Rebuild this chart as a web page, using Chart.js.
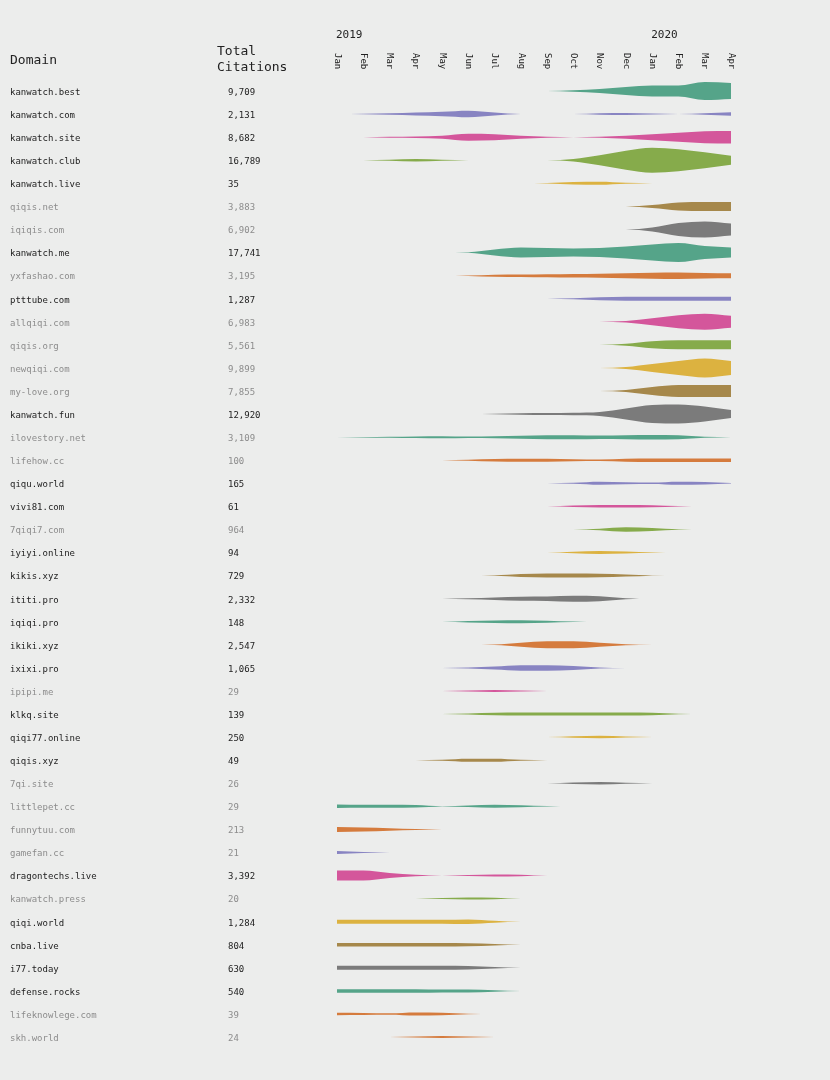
<!DOCTYPE html>
<html>
<head>
<meta charset="utf-8">
<script src="https://cdn.jsdelivr.net/npm/chart.js@4.4.1/dist/chart.umd.min.js"></script>
<style>
  html, body { margin: 0; padding: 0; background: #ecedec; }
  canvas { display: block; }
</style>
</head>
<body>
<canvas id="chart" width="830" height="1080"></canvas>
<script>
// month axis: Jan 2019 .. Apr 2020
const months = ['Jan','Feb','Mar','Apr','May','Jun','Jul','Aug','Sep','Oct','Nov','Dec','Jan','Feb','Mar','Apr'];
const years = [{ label: '2019', index: 0 }, { label: '2020', index: 12 }];

const domains = [
    'kanwatch.best','kanwatch.com','kanwatch.site','kanwatch.club','kanwatch.live',
    'qiqis.net','iqiqis.com','kanwatch.me','yxfashao.com','ptttube.com',
    'allqiqi.com','qiqis.org','newqiqi.com','my-love.org','kanwatch.fun',
    'ilovestory.net','lifehow.cc','qiqu.world','vivi81.com','7qiqi7.com',
    'iyiyi.online','kikis.xyz','ititi.pro','iqiqi.pro','ikiki.xyz',
    'ixixi.pro','ipipi.me','klkq.site','qiqi77.online','qiqis.xyz',
    '7qi.site','littlepet.cc','funnytuu.com','gamefan.cc','dragontechs.live',
    'kanwatch.press','qiqi.world','cnba.live','i77.today','defense.rocks',
    'lifeknowlege.com','skh.world'
];

const citations = [
    '9,709','2,131','8,682','16,789','35',
    '3,883','6,902','17,741','3,195','1,287',
    '6,983','5,561','9,899','7,855','12,920',
    '3,109','100','165','61','964',
    '94','729','2,332','148','2,547',
    '1,065','29','139','250','49',
    '26','29','213','21','3,392',
    '20','1,284','804','630','540',
    '39','24'
];

// rows printed in dark text (the rest are grey)
const highlighted = [0,1,2,3,4,7,9,14,17,18,20,21,22,23,24,25,27,28,29,34,36,37,38,39];

// monthly citation volume per domain (band thickness), Jan 2019 .. Apr 2020
const volume = [
    [0,0,0,0,0,0,0,0,0,1.5,4,8,11,11,18,16],          // kanwatch.best
    [0,0.5,1.5,3,4.5,6.5,3,0,0,0,1.5,2,1,0,1.5,3.5],  // kanwatch.com
    [0,0,1,1.5,3,7,6,3,1,0,1,3,6,9,12,12.5],          // kanwatch.site
    [0,0,1,2.5,1,0,0,0,0,2.5,10,19,25,22,16,9],       // kanwatch.club
    [0,0,0,0,0,0,0,0,0.5,2.5,3,1,0,0,0,0],            // kanwatch.live
    [0,0,0,0,0,0,0,0,0,0,0,0,3,8,9,9],                // qiqis.net
    [0,0,0,0,0,0,0,0,0,0,0,0,4,13,16,12],             // iqiqis.com
    [0,0,0,0,0,0.5,6,10,9,8,9,12,16,19,13,10],        // kanwatch.me
    [0,0,0,0,0,0.5,2,2.5,3,3.5,4,5,6,6.5,5.5,5],      // yxfashao.com
    [0,0,0,0,0,0,0,0,0,1,3,4,4,4,4,4],                // ptttube.com
    [0,0,0,0,0,0,0,0,0,0,0,1.5,7,13,16,12],           // allqiqi.com
    [0,0,0,0,0,0,0,0,0,0,0,2,7,9,9,9],                // qiqis.org
    [0,0,0,0,0,0,0,0,0,0,0,2,8,14,19,14],             // newqiqi.com
    [0,0,0,0,0,0,0,0,0,0,0,2,8,12,12,12],             // my-love.org
    [0,0,0,0,0,0,0.5,1.5,2,2.5,4,11,18,19,15,8],      // kanwatch.fun
    [0,0.5,1,1.5,2,1.5,2,3,4,4,3.5,4,4.5,4,1,0],      // ilovestory.net
    [0,0,0,0,0,1,2.5,3,3,2,1.5,3,3.5,3.5,3.5,3.5],    // lifehow.cc
    [0,0,0,0,0,0,0,0,0,1,3,2,1.5,3,2.5,0.5],          // qiqu.world
    [0,0,0,0,0,0,0,0,0,1.5,2.5,2.5,2,0.5,0,0],        // vivi81.com
    [0,0,0,0,0,0,0,0,0,0,1.5,4.5,3,0.5,0,0],          // 7qiqi7.com
    [0,0,0,0,0,0,0,0,0,1.5,3,2,0.5,0,0,0],            // iyiyi.online
    [0,0,0,0,0,0,0.5,3,4,4,3.5,2,0.3,0,0,0],          // kikis.xyz
    [0,0,0,0,0,1,2.5,4,4.5,6,5,1,0,0,0,0],            // ititi.pro
    [0,0,0,0,0,1.5,2.5,3,2,0.5,0,0,0,0,0,0],          // iqiqi.pro
    [0,0,0,0,0,0,0.5,4,7,7,4,1,0,0,0,0],              // ikiki.xyz
    [0,0,0,0,0,1,3,5.5,5.5,4,1,0,0,0,0,0],            // ixixi.pro
    [0,0,0,0,0,1,2,1,0,0,0,0,0,0,0,0],                // ipipi.me
    [0,0,0,0,0,1,2.5,3,3,3,3,3,2.5,0.5,0,0],          // klkq.site
    [0,0,0,0,0,0,0,0,0,1.5,2.5,1,0,0,0,0],            // qiqi77.online
    [0,0,0,0,1,3,3,1,0,0,0,0,0,0,0,0],                // qiqis.xyz
    [0,0,0,0,0,0,0,0,0,1.5,2.5,1,0,0,0,0],            // 7qi.site
    [3.5,3,3,2.5,0.3,1.5,3,2,0.5,0,0,0,0,0,0,0],      // littlepet.cc
    [5,4,2.5,1,0,0,0,0,0,0,0,0,0,0,0,0],              // funnytuu.com
    [3,1,0,0,0,0,0,0,0,0,0,0,0,0,0,0],                // gamefan.cc
    [10,10,5,1.5,0,1,2,1.5,0,0,0,0,0,0,0,0],          // dragontechs.live
    [0,0,0,0,1,2,1.5,0,0,0,0,0,0,0,0,0],              // kanwatch.press
    [4,4,4,4,4,4.5,2,0,0,0,0,0,0,0,0,0],              // qiqi.world
    [3.5,3.5,3.5,3.5,3.5,3,1.5,0,0,0,0,0,0,0,0,0],    // cnba.live
    [4,4,4,4,4,3.5,1.5,0,0,0,0,0,0,0,0,0],            // i77.today
    [3.5,3.5,3.5,3.5,3,3,1.5,0,0,0,0,0,0,0,0,0],      // defense.rocks
    [2.5,2,1.5,3,2.5,0.5,0,0,0,0,0,0,0,0,0,0],        // lifeknowlege.com
    [0,0,0,1,2,1,0,0,0,0,0,0,0,0,0,0]                 // skh.world
];

const palette = {
    teal: '#55a489', orange: '#d57b3d', purple: '#8884c2', pink: '#d4569b',
    green: '#86ab4b', yellow: '#dcb240', brown: '#a6884b', gray: '#7b7b7b'
};
const rowColors = [
    'teal','purple','pink','green','yellow','brown','gray',
    'teal','orange','purple','pink','green','yellow','brown','gray',
    'teal','orange','purple','pink','green','yellow','brown','gray',
    'teal','orange','purple','pink','green','yellow','brown','gray',
    'teal','orange','purple','pink','green','yellow','brown','gray',
    'teal','orange','orange'
];

const ROW_PX = 23.07;          // one row in pixels, volume is read in px
const MONO = '"DejaVu Sans Mono", "Liberation Mono", monospace';

function buildDatasets() {
    const sets = [];
    volume.forEach((row, i) => {
        const color = palette[rowColors[i]];
        const half = row.map(v => v / ROW_PX / 2);
        sets.push({
            data: half.map((h, j) => ({ x: j, y: i - h })),
            fill: false,
            borderWidth: 0,
            pointRadius: 0,
            cubicInterpolationMode: 'monotone',
            backgroundColor: color
        });
        sets.push({
            data: half.map((h, j) => ({ x: j, y: i + h })),
            fill: '-1',
            borderWidth: 0,
            pointRadius: 0,
            cubicInterpolationMode: 'monotone',
            backgroundColor: color
        });
    });
    return sets;
}

const textPlugin = {
    id: 'textLabels',
    afterDraw(chart) {
        const ctx = chart.ctx;
        const xs = chart.scales.x;
        const ys = chart.scales.y;
        ctx.save();

        // headers
        ctx.fillStyle = '#222';
        ctx.textBaseline = 'middle';
        ctx.textAlign = 'left';
        ctx.font = '13px ' + MONO;
        ctx.fillText('Domain', 10, 61);
        ctx.fillText('Total', 217, 52);
        ctx.fillText('Citations', 217, 68);

        ctx.font = '11px ' + MONO;
        years.forEach(y => ctx.fillText(y.label, xs.getPixelForValue(y.index) - 1, 35));

        // month labels, rotated clockwise
        ctx.font = '9px ' + MONO;
        months.forEach((m, j) => {
            ctx.save();
            ctx.translate(xs.getPixelForValue(j), 53);
            ctx.rotate(Math.PI / 2);
            ctx.textAlign = 'left';
            ctx.textBaseline = 'middle';
            ctx.fillText(m, 0, 0);
            ctx.restore();
        });

        // rows
        ctx.font = '9px ' + MONO;
        domains.forEach((d, i) => {
            const y = ys.getPixelForValue(i) + 1.5;
            ctx.fillStyle = highlighted.includes(i) ? '#222' : '#8c8c8c';
            ctx.fillText(d, 10, y);
            ctx.fillText(citations[i], 228, y);
        });
        ctx.restore();
    }
};

new Chart(document.getElementById('chart'), {
    type: 'line',
    data: { datasets: buildDatasets() },
    options: {
        responsive: false,
        animation: false,
        layout: { padding: { left: 337, right: 99, top: 79.5, bottom: 31.4 } },
        scales: {
            x: { type: 'linear', min: 0, max: 15, display: false },
            y: { type: 'linear', min: -0.5, max: 41.5, reverse: true, display: false }
        },
        plugins: {
            legend: { display: false },
            tooltip: { enabled: false }
        }
    },
    plugins: [textPlugin]
});
</script>
</body>
</html>
